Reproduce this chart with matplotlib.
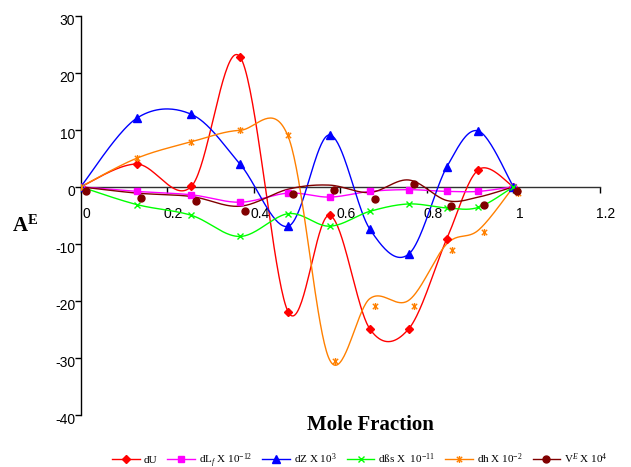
import numpy as np
import matplotlib
matplotlib.use("Agg")
import matplotlib.pyplot as plt
from matplotlib.lines import Line2D
from matplotlib.path import Path
from matplotlib.transforms import ScaledTranslation

plt.rcParams['font.family'] = ['Liberation Sans', 'DejaVu Sans']
plt.rcParams['axes.unicode_minus'] = False
plt.rcParams['mathtext.fontset'] = 'custom'
plt.rcParams['mathtext.rm'] = 'Liberation Serif'
plt.rcParams['mathtext.it'] = 'Liberation Serif:italic'
plt.rcParams['mathtext.bf'] = 'Liberation Serif:bold'

# ---------------- data ----------------
mole_fraction = [0.0, 0.129, 0.256, 0.368, 0.48, 0.575, 0.668, 0.758, 0.846, 0.919, 1.0]

dU = [0.0, 4.0, 0.1, 22.8, -22.0, -5.0, -24.9, -24.9, -9.1, 3.0, 0.0]
dLf = [0.0, -0.8, -1.4, -2.7, -1.1, -1.8, -0.8, -0.5, -0.8, -0.8, 0.0]
dZ = [0.0, 12.0, 12.7, 4.0, -6.9, 9.1, -7.4, -11.8, 3.5, 9.8, 0.0]
dBs = [0.0, -3.1, -5.0, -8.7, -4.7, -6.9, -4.3, -3.0, -3.7, -3.6, 0.0]

dh_line = [0.0, 5.0, 7.9, 9.9, 8.7, -30.3, -19.6, -19.9, -10.0, -7.6, 0.0]
dh_marker_x = [0.0, 0.129, 0.256, 0.368, 0.48, 0.587, 0.68, 0.77, 0.858, 0.933, 1.01]
dh_marker_y = [0.0, 5.0, 7.9, 9.9, 9.1, -30.6, -20.9, -20.9, -11.0, -7.9, -1.0]

VE_line = [0.0, -1.1, -1.7, -3.4, -0.4, 0.3, -1.0, 1.2, -2.4, -1.8, 0.0]
VE_marker_x = [0.012, 0.139, 0.266, 0.38, 0.491, 0.585, 0.681, 0.77, 0.856, 0.931, 1.009]
VE_marker_y = [-0.8, -2.0, -2.5, -4.3, -1.2, -0.5, -2.2, 0.5, -3.3, -3.1, -0.8]

legend_labels = ["dU", r"dL$_{\mathit{f}}$ X 10$^{-12}$", r"dZ X 10$^{3}$",
                 r"dßs X  10$^{-11}$", r"dh X 10$^{-2}$", r"V$^{E}$ X 10$^{4}$"]
x_ticks = [0, 0.2, 0.4, 0.6, 0.8, 1.0, 1.2]
x_tick_labels = ["0", "0.2", "0.4", "0.6", "0.8", "1", "1.2"]
y_ticks = [-40, -30, -20, -10, 0, 10, 20, 30]

# ---------------- figure ----------------
W, H = 631, 467
fig = plt.figure(figsize=(W / 100, H / 100), dpi=100)
left, right, top, bottom = 80.7, 600.0, 15.7, 415.0
ax = fig.add_axes([left / W, 1 - bottom / H, (right - left) / W, (bottom - top) / H])
XMIN, XMAX, YMIN, YMAX = 0.0, 1.2, -40, 30
ax.set_xlim(XMIN, XMAX)
ax.set_ylim(YMIN, YMAX)

sx = (right - left) / (XMAX - XMIN)
sy = (bottom - top) / (YMAX - YMIN)


def smooth(xs, ys, n=40):
    """Excel-like smoothed line (Catmull-Rom Bezier) computed in pixel space."""
    P = np.column_stack([np.asarray(xs) * sx, np.asarray(ys) * sy])
    P = np.vstack([P[0], P, P[-1]])
    t = np.linspace(0, 1, n)[:, None]
    out = []
    for i in range(1, len(P) - 2):
        p0, p1, p2, p3 = P[i - 1], P[i], P[i + 1], P[i + 2]
        c1 = p1 + (p2 - p0) / 6
        c2 = p2 - (p3 - p1) / 6
        seg = ((1 - t) ** 3) * p1 + 3 * ((1 - t) ** 2) * t * c1 + 3 * (1 - t) * t ** 2 * c2 + t ** 3 * p2
        out.append(seg if i == 1 else seg[1:])
    out = np.vstack(out)
    return out[:, 0] / sx, out[:, 1] / sy


star = Path([(-1, -1), (1, 1), (-1, 1), (1, -1), (0, -1.3), (0, 1.3)],
            [Path.MOVETO, Path.LINETO, Path.MOVETO, Path.LINETO, Path.MOVETO, Path.LINETO])

lw = 1.0
ms = 5
series = [
    (dU, '#FF0000', 'D', ms * 0.9),
    (dLf, '#FF00FF', 's', ms),
    (dZ, '#0000FF', '^', ms * 1.1),
    (dBs, '#00FF00', 'x', ms),
]
handles = []
for vals, col, mk, size in series:
    sxv, syv = smooth(mole_fraction, vals)
    ax.plot(sxv, syv, color=col, lw=lw, zorder=3)
    ax.plot(mole_fraction, vals, ls='none', marker=mk, color=col, ms=size,
            mew=1.0, zorder=4)
    handles.append(Line2D([], [], color=col, lw=lw, marker=mk, ms=size, mew=1.0))

# dh
orange = '#FF8000'
sxv, syv = smooth(mole_fraction, dh_line)
ax.plot(sxv, syv, color=orange, lw=lw, zorder=3)
ax.plot(dh_marker_x, dh_marker_y, ls='none', marker=star, color=orange, ms=5,
        mfc='none', mew=1.0, zorder=4)
handles.append(Line2D([], [], color=orange, lw=lw, marker=star, ms=5, mfc='none', mew=1.0))

# V^E
maroon = '#800000'
sxv, syv = smooth(mole_fraction, VE_line)
ax.plot(sxv, syv, color=maroon, lw=lw, zorder=3)
ax.plot(VE_marker_x, VE_marker_y, ls='none', marker='o', color=maroon, ms=5, zorder=4)
handles.append(Line2D([], [], color=maroon, lw=lw, marker='o', ms=5))

# axes styling
for s in ['top', 'right']:
    ax.spines[s].set_visible(False)
ax.spines['bottom'].set_position(('data', 0))
ax.spines['bottom'].set_zorder(2)
ax.spines['left'].set_linewidth(1.0)
ax.spines['bottom'].set_linewidth(1.0)
ax.spines['bottom'].set_color('#303030')

ax.set_xticks(x_ticks)
ax.set_xticklabels(x_tick_labels)
ax.set_yticks(y_ticks)
ax.tick_params(axis='x', direction='out', length=4, width=1, pad=10.5, labelsize=10)
ax.tick_params(axis='y', direction='out', length=4, width=1, pad=0, labelsize=10)
for lab in ax.get_xticklabels():
    lab.set_transform(lab.get_transform() + ScaledTranslation(6 / 100, 0, fig.dpi_scale_trans))
for lab in ax.get_yticklabels():
    lab.set_transform(lab.get_transform() + ScaledTranslation(0, -4 / 100, fig.dpi_scale_trans))

fig.text(12.5 / W, 1 - 232 / H, r"$\mathbf{A}^{\mathbf{E}}$", fontsize=15,
         ha='left', va='baseline')
fig.text(370.5 / W, 1 - 430 / H, "Mole Fraction", fontsize=15, fontweight='bold',
         family='Liberation Serif', ha='center', va='baseline')

fig.legend(handles, legend_labels, ncol=6, frameon=False, loc='center left',
           bbox_to_anchor=(112 / W, 6.5 / H), prop={'family': 'Liberation Serif', 'size': 8},
           handlelength=2.5, handletextpad=0.35, columnspacing=0.9, borderpad=0,
           borderaxespad=0)

fig.savefig("out.png", dpi=100)
